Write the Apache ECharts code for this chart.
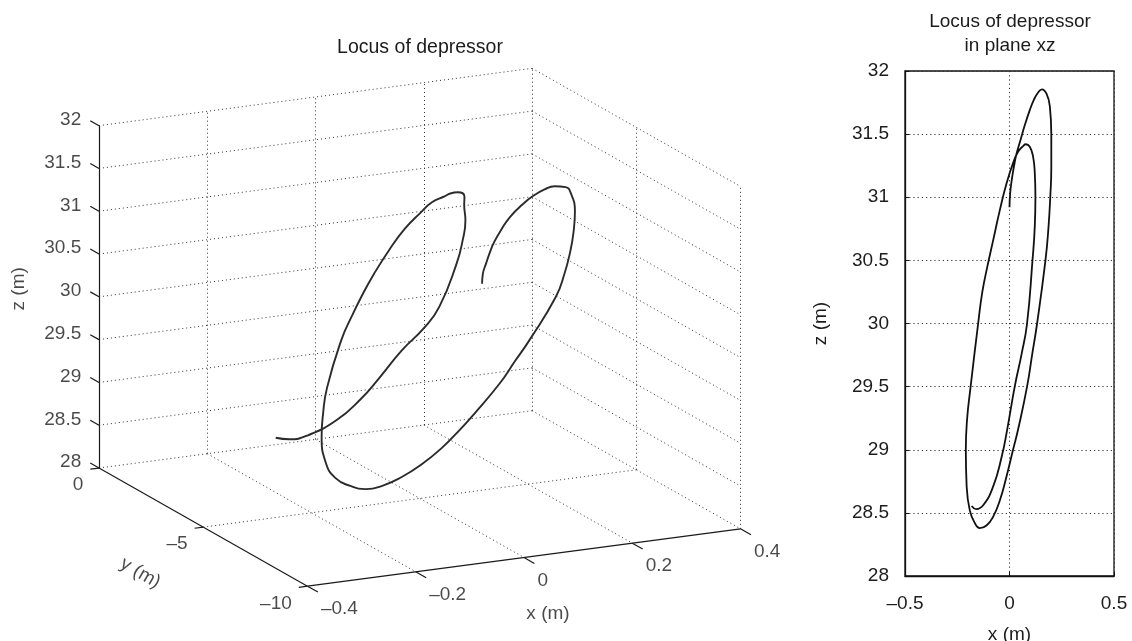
<!DOCTYPE html>
<html>
<head>
<meta charset="utf-8">
<title>Locus of depressor</title>
<script src="https://cdn.jsdelivr.net/npm/echarts@6/dist/echarts.min.js"></script>
<style>
  html, body { margin: 0; padding: 0; background: #fff; }
  #chart { width: 1132px; height: 641px; }
</style>
</head>
<body>
<div id="chart"></div>
<script>
// Depressor trajectory samples, metres (x lateral, y along track, z height)
const locusX = [0.000, 0.003, 0.011, 0.021, 0.033, 0.052, 0.073, 0.097, 0.116, 0.137,
  0.155, 0.177, 0.193, 0.200, 0.200, 0.195, 0.186, 0.172, 0.132, 0.108, 0.084, 0.041,
  0.017, -0.014, -0.046, -0.078, -0.110, -0.142, -0.166, -0.190, -0.205, -0.209,
  -0.203, -0.186, -0.150, -0.130, -0.106, -0.078, -0.046, -0.014, 0.017, 0.041, 0.065,
  0.078, 0.097, 0.113, 0.121, 0.124, 0.121, 0.110, 0.084, 0.058, 0.025, -0.011,
  -0.038, -0.078, -0.126, -0.159, -0.181];
const locusY = [-7.99, -7.95, -7.90, -7.81, -7.71, -7.56, -7.45, -7.42, -7.42, -7.43,
  -7.44, -7.40, -7.22, -7.25, -7.18, -7.14, -7.10, -7.07, -6.85, -6.75, -6.65, -6.53,
  -6.50, -6.40, -6.24, -6.14, -6.12, -6.10, -5.98, -5.88, -5.80, -5.72,
  -5.63, -5.38, -5.14, -5.11, -4.97, -4.82, -4.72, -4.64, -4.60, -4.52, -4.50,
  -4.44, -4.31, -4.21, -3.99, -3.97, -3.92, -3.91, -3.76, -3.69, -3.49, -3.28,
  -3.16, -3.04, -2.93, -2.87, -2.79];
const locusZ = [30.92, 31.03, 31.14, 31.24, 31.34, 31.45, 31.57, 31.69, 31.77, 31.83,
  31.855, 31.82, 31.72, 31.50, 31.24, 31.00, 30.75, 30.50, 30.00, 29.75, 29.50, 29.16,
  29.00, 28.79, 28.60, 28.47, 28.40, 28.38, 28.42, 28.52, 28.71, 29.00,
  29.24, 29.50, 30.00, 30.25, 30.45, 30.66, 30.90, 31.11, 31.27, 31.36, 31.405,
  31.42, 31.40, 31.32, 31.19, 31.00, 30.77, 30.50, 30.00, 29.76, 29.50, 29.16,
  28.94, 28.71, 28.56, 28.53, 28.555];

// Tick values
const xTicks3d = [-0.4, -0.2, 0, 0.2, 0.4];
const yTicks3d = [0, -5, -10];
const zTicks = [28, 28.5, 29, 29.5, 30, 30.5, 31, 31.5, 32];
const xTicksPlane = [-0.5, 0, 0.5];

// Box limits of the 3-D view
const X_RANGE = [-0.4, 0.4];
const Y_RANGE = [-10, 0];
const Z_RANGE = [28, 32];

// Orthographic camera: azimuth / elevation and box edge lengths
const AZ = -25.8 * Math.PI / 180;
const EL = 15.9 * Math.PI / 180;
const BOX = [481, 479, 356];
const TICK = { x: 0.05, y: 0.02, z: 0.042 };   // tick length as a fraction of the crossing edge

function project(x, y, z) {
  const bx = BOX[0] * (x - X_RANGE[0]) / (X_RANGE[1] - X_RANGE[0]);
  const by = BOX[1] * (y - Y_RANGE[0]) / (Y_RANGE[1] - Y_RANGE[0]);
  const bz = BOX[2] * (z - Z_RANGE[0]) / (Z_RANGE[1] - Z_RANGE[0]);
  const h = bx * Math.cos(AZ) + by * Math.sin(AZ);
  const v = -bx * Math.sin(AZ) * Math.sin(EL) + by * Math.cos(AZ) * Math.sin(EL) + bz * Math.cos(EL);
  return [h, v];
}

// projected extent of the box
let hMin = Infinity, hMax = -Infinity, vMin = Infinity, vMax = -Infinity;
for (const x of X_RANGE) for (const y of Y_RANGE) for (const z of Z_RANGE) {
  const [h, v] = project(x, y, z);
  hMin = Math.min(hMin, h); hMax = Math.max(hMax, h);
  vMin = Math.min(vMin, v); vMax = Math.max(vMax, v);
}

const [xmin, xmax] = X_RANGE, [ymin, ymax] = Y_RANGE, [zmin, zmax] = Z_RANGE;
const seg = (list, a, b) => list.push({ coords: [project(...a), project(...b)] });

// dotted grid on the back wall, side wall and floor
const gridSegs = [];
zTicks.forEach(z => seg(gridSegs, [xmin, ymax, z], [xmax, ymax, z]));
xTicks3d.filter(x => x !== xmin).forEach(x => seg(gridSegs, [x, ymax, zmin], [x, ymax, zmax]));
zTicks.filter(z => z !== zmin).forEach(z => seg(gridSegs, [xmax, ymax, z], [xmax, ymin, z]));
yTicks3d.filter(y => y !== ymax).forEach(y => seg(gridSegs, [xmax, y, zmin], [xmax, y, zmax]));
xTicks3d.filter(x => x !== xmin).forEach(x => seg(gridSegs, [x, ymax, zmin], [x, ymin, zmin]));
yTicks3d.filter(y => y !== ymax && y !== ymin).forEach(y => seg(gridSegs, [xmin, y, zmin], [xmax, y, zmin]));

// solid axis lines and tick marks
const axisSegs = [];
seg(axisSegs, [xmin, ymax, zmin], [xmin, ymax, zmax]);
seg(axisSegs, [xmin, ymax, zmin], [xmin, ymin, zmin]);
seg(axisSegs, [xmin, ymin, zmin], [xmax, ymin, zmin]);
const zTickEnd = z => [xmin, ymax + TICK.z * (ymax - ymin), z];
const yTickEnd = y => [xmin - TICK.y * (xmax - xmin), y, zmin];
const xTickEnd = x => [x, ymin - TICK.x * (ymax - ymin), zmin];
zTicks.forEach(z => seg(axisSegs, [xmin, ymax, z], zTickEnd(z)));
yTicks3d.forEach(y => seg(axisSegs, [xmin, y, zmin], yTickEnd(y)));
xTicks3d.forEach(x => seg(axisSegs, [x, ymin, zmin], xTickEnd(x)));

const FONT = '"Liberation Sans", Arial, Helvetica, sans-serif';
const TEXT = '#1c1c1c';
const FS = 19;
const fmt = v => (v < 0 ? '\u2013' + Math.abs(v) : String(v));
const txt = { fontSize: FS, color: TEXT, fontFamily: FONT };

function labelSeries(items, label) {
  return {
    type: 'scatter', xAxisIndex: 0, yAxisIndex: 0, silent: true, clip: false,
    symbolSize: 1, itemStyle: { color: 'rgba(0,0,0,0)' },
    data: items,
    label: Object.assign({ show: true, formatter: '{b}', position: 'inside' }, txt, label)
  };
}

// axis titles of the 3-D view, placed beside the middle of each axis
const shift = (p, dx, dy) => [p[0] + dx, p[1] - dy];
const xTitlePos = shift(project(0, ymin, zmin), 24, 56);
const yTitlePos = shift(project(xmin, -5, zmin), -63, 46);
const zTitlePos = shift(project(xmin, ymax, 30), -80, -8);

const curve3d = locusX.map((x, i) => project(x, locusY[i], locusZ[i]));
const curvePlane = locusX.map((x, i) => [x, locusZ[i]]);

const option = {
  animation: false,
  backgroundColor: '#fff',
  title: [
    { text: 'Locus of depressor', left: 420, top: 38, textAlign: 'center', padding: 0,
      textStyle: Object.assign({ fontWeight: 'normal' }, txt, { fontSize: 19.5 }) },
    { text: 'Locus of depressor\nin plane xz', left: 1010, top: 10, textAlign: 'center', padding: 0,
      textStyle: Object.assign({ fontWeight: 'normal', lineHeight: 24 }, txt) }
  ],
  grid: [
    { left: 99, top: 68.3, width: hMax - hMin, height: vMax - vMin, outerBoundsMode: 'none' },
    { left: 905, top: 71, width: 209, height: 505, outerBoundsMode: 'none',
      show: true, borderColor: '#111', borderWidth: 1.3 }
  ],
  xAxis: [
    { gridIndex: 0, type: 'value', min: hMin, max: hMax, show: false },
    { gridIndex: 1, type: 'value', min: -0.5, max: 0.5, interval: 0.5,
      name: 'x (m)', nameLocation: 'middle', nameGap: 49, nameTextStyle: txt,
      axisLine: { onZero: false, lineStyle: { color: '#111', width: 1.3 } },
      axisTick: { inside: true, length: 4, lineStyle: { color: '#111' } },
      axisLabel: Object.assign({ margin: 18, formatter: fmt, customValues: xTicksPlane }, txt),
      splitLine: { show: true, lineStyle: { color: '#333', width: 1, type: [1.2, 3] } } }
  ],
  yAxis: [
    { gridIndex: 0, type: 'value', min: vMin, max: vMax, show: false },
    { gridIndex: 1, type: 'value', min: 28, max: 32, interval: 0.5,
      name: 'z (m)', nameLocation: 'middle', nameGap: 75, nameRotate: 90, nameTextStyle: txt,
      axisLine: { onZero: false, lineStyle: { color: '#111', width: 1.3 } },
      axisTick: { inside: true, length: 4, lineStyle: { color: '#111' } },
      axisLabel: Object.assign({ margin: 16, formatter: fmt }, txt),
      splitLine: { show: true, lineStyle: { color: '#333', width: 1, type: [1.2, 3] } } }
  ],
  series: [
    { type: 'lines', coordinateSystem: 'cartesian2d', xAxisIndex: 0, yAxisIndex: 0,
      silent: true, clip: false, data: gridSegs,
      lineStyle: { color: '#333', width: 1, type: [1, 3], opacity: 1 } },
    { type: 'lines', coordinateSystem: 'cartesian2d', xAxisIndex: 0, yAxisIndex: 0,
      silent: true, clip: false, data: axisSegs,
      lineStyle: { color: '#1a1a1a', width: 1.2, opacity: 1 } },
    { type: 'line', xAxisIndex: 0, yAxisIndex: 0, data: curve3d, silent: true, clip: false,
      symbol: 'none', smooth: 0.5, lineStyle: { color: '#2b2b2b', width: 1.9 } },
    labelSeries(zTicks.map(z => ({ value: project(...zTickEnd(z)), name: fmt(z) })),
      { align: 'right', verticalAlign: 'middle', offset: [-9, -1] }),
    labelSeries(yTicks3d.map(y => ({ value: project(...yTickEnd(y)), name: fmt(y) })),
      { align: 'right', verticalAlign: 'middle', offset: [-7, 16] }),
    labelSeries(xTicks3d.map(x => ({ value: project(...xTickEnd(x)), name: fmt(x) })),
      { align: 'left', verticalAlign: 'middle', offset: [3, 17] }),
    labelSeries([{ value: xTitlePos, name: 'x (m)' }], { align: 'center', verticalAlign: 'middle' }),
    labelSeries([{ value: yTitlePos, name: 'y (m)' }], { align: 'center', verticalAlign: 'middle', rotate: -30 }),
    labelSeries([{ value: zTitlePos, name: 'z (m)' }], { align: 'center', verticalAlign: 'middle', rotate: 90 }),
    { type: 'line', xAxisIndex: 1, yAxisIndex: 1, data: curvePlane, silent: true,
      symbol: 'none', smooth: 0.5, lineStyle: { color: '#111', width: 1.8 } }
  ]
};

const chart = echarts.init(document.getElementById('chart'), null, { renderer: 'canvas' });
chart.setOption(option);
</script>
</body>
</html>
